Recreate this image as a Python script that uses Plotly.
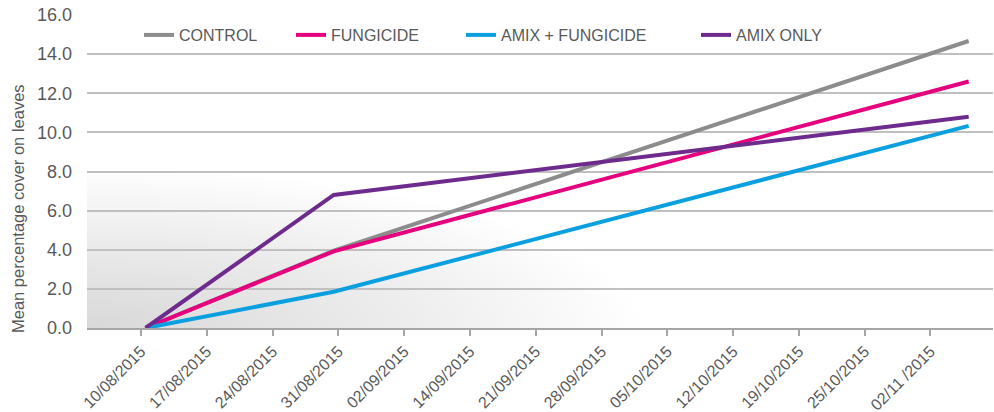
import base64
import plotly.graph_objects as go

# ---- data ----
tick_labels = ["10/08/2015", "17/08/2015", "24/08/2015", "31/08/2015", "02/09/2015",
               "14/09/2015", "21/09/2015", "28/09/2015", "05/10/2015", "12/10/2015",
               "19/10/2015", "25/10/2015", "02/11 /2015"]
# sample positions in week-index units along the axis
sample_pos = [0.07, 2.93, 12.58]
control = [0.0, 3.95, 14.67]
fungicide = [0.0, 3.92, 12.6]
amix_fungicide = [0.0, 1.85, 10.33]
amix_only = [0.0, 6.8, 10.8]

series_names = ["CONTROL", "FUNGICIDE", "AMIX + FUNGICIDE", "AMIX ONLY"]
series_values = [control, fungicide, amix_fungicide, amix_only]
colors = ["#8c8c8c", "#e6007e", "#0aa0e0", "#6d2b8d"]
legend_line_px = [143, 295, 465, 700]
y_title = "Mean percentage cover on leaves"

W, H = 994, 412
L, R, T, B = 87, 1, 15, 84
PW, PH = W - L - R, H - T - B
FONT = "Liberation Sans, Arial"
TXT = "#595959"

fig = go.Figure()
for i, (name, vals, col) in enumerate(zip(series_names, series_values, colors)):
    lg = "legend" if i == 0 else f"legend{i+1}"
    fig.add_trace(go.Scatter(x=sample_pos, y=vals, mode="lines", name=name,
                             line=dict(color=col, width=4), legend=lg, showlegend=True))

layout_legends = {}
for i, px in enumerate(legend_line_px):
    key = "legend" if i == 0 else f"legend{i+1}"
    layout_legends[key] = dict(
        xref="paper", yref="paper", xanchor="left", yanchor="middle",
        x=(px - 4 - L) / PW, y=(H - B - 35) / PH,
        bgcolor="rgba(0,0,0,0)",
        font=dict(family=FONT, size=16, color=TXT),
        orientation="h", itemwidth=30)

svg = ('<svg xmlns="http://www.w3.org/2000/svg" width="906" height="313" viewBox="0 0 906 313" preserveAspectRatio="none">'
       '<defs><radialGradient id="g" gradientUnits="userSpaceOnUse" cx="0" cy="313" r="560" fx="0" fy="313" '
       'gradientTransform="translate(0 313) scale(1 0.29) translate(0 -313)">'
       '<stop offset="0" stop-color="#d8d8d8"/><stop offset="0.55" stop-color="#ececec"/>'
       '<stop offset="1" stop-color="#ffffff"/></radialGradient></defs>'
       '<rect width="906" height="313" fill="url(#g)"/></svg>')
src = "data:image/svg+xml;base64," + base64.b64encode(svg.encode()).decode()

fig.update_layout(
    width=W, height=H,
    margin=dict(l=L, r=R, t=T, b=B, autoexpand=False),
    paper_bgcolor="white", plot_bgcolor="white",
    font=dict(family=FONT, color=TXT),
    images=[dict(source=src, xref="paper", yref="paper", x=0, y=0, sizex=1, sizey=1,
                 xanchor="left", yanchor="bottom", sizing="stretch", layer="below")],
    annotations=[dict(text=y_title, textangle=-90, showarrow=False,
                      xref="paper", yref="paper", x=(18 - L) / PW, y=(H - B - 209) / PH,
                      xanchor="center", yanchor="middle", font=dict(family=FONT, size=16.5, color=TXT))],
    **layout_legends,
)
fig.update_xaxes(range=[-0.82, 12.95], tickvals=list(range(len(tick_labels))), ticktext=tick_labels,
                 tickangle=-45, tickfont=dict(size=16, color=TXT), automargin=False,
                 showgrid=False, showline=True, linecolor="#a6a6a6", linewidth=1.5,
                 ticks="outside", ticklen=6, tickcolor="#a6a6a6", tickwidth=1.5, zeroline=False)
fig.update_yaxes(range=[0, 16], dtick=2, tickformat=".1f", tickfont=dict(size=18, color=TXT),
                 showgrid=True, gridcolor="#c0c0c0", gridwidth=1.5, zeroline=False, automargin=False,
                 showline=False, ticks="", ticklabelstandoff=14)

fig.write_html("out.html", config={"displayModeBar": False},
               post_script="document.body.style.margin='0';")
